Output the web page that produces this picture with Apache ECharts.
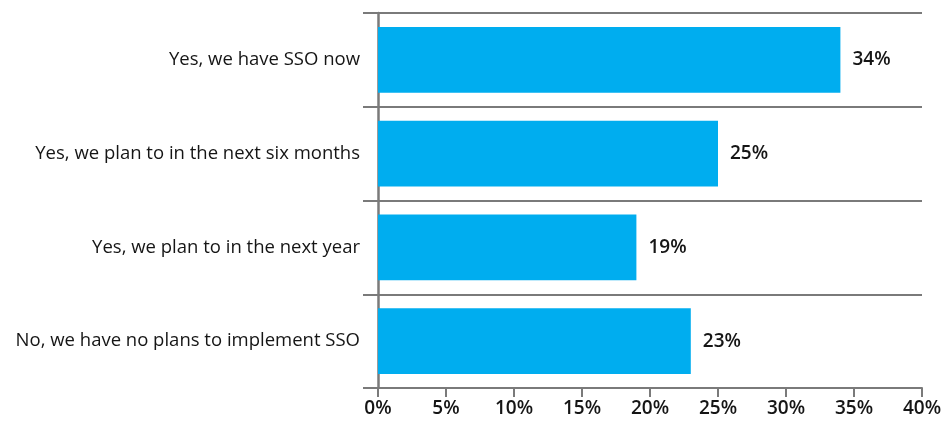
<!DOCTYPE html>
<html>
<head>
<meta charset="utf-8">
<script src="https://cdn.jsdelivr.net/npm/echarts@6/dist/echarts.min.js"></script>
<style>
  html, body { margin: 0; padding: 0; background: #fff; }
  #chart { width: 950px; height: 424px; }
</style>
</head>
<body>
<div id="chart"></div>
<script>
// Survey answers, listed top to bottom
const categories = [
  'Yes, we have SSO now',
  'Yes, we plan to in the next six months',
  'Yes, we plan to in the next year',
  'No, we have no plans to implement SSO'
];
// Share of respondents (%)
const shares = [34, 25, 19, 23];
// Percentage axis
const axisMin = 0;
const axisMax = 40;
const axisStep = 5;

const FONT = '"Open Sans", "Noto Sans", sans-serif';
const LINE = '#7a7a7a';

const chart = echarts.init(document.getElementById('chart'), null, { renderer: 'canvas' });

chart.setOption({
  animation: false,
  grid: { left: 378, right: 28, top: 13, bottom: 36, containLabel: false },
  xAxis: {
    type: 'value',
    min: axisMin,
    max: axisMax,
    interval: axisStep,
    axisLine: { show: true, lineStyle: { color: LINE, width: 2 } },
    axisTick: { show: true, length: 9, lineStyle: { color: LINE, width: 2 } },
    splitLine: { show: false },
    axisLabel: {
      formatter: '{value}%',
      color: '#151515',
      fontFamily: FONT,
      fontSize: 19,
      fontWeight: 600,
      margin: 11
    }
  },
  yAxis: {
    type: 'category',
    inverse: true,
    data: categories,
    axisLine: { show: true, lineStyle: { color: LINE, width: 2.5 } },
    axisTick: { show: true, length: 15, lineStyle: { color: LINE, width: 2 } },
    splitLine: { show: true, lineStyle: { color: LINE, width: 2 } },
    axisLabel: {
      color: '#151515',
      fontFamily: FONT,
      fontSize: 18.5,
      margin: 18
    }
  },
  series: [{
    type: 'bar',
    data: shares,
    barCategoryGap: '30%',
    itemStyle: { color: '#00adef' },
    label: {
      show: true,
      position: 'right',
      distance: 12,
      formatter: '{c}%',
      color: '#151515',
      fontFamily: FONT,
      fontSize: 19,
      fontWeight: 600
    }
  }]
});
</script>
</body>
</html>
